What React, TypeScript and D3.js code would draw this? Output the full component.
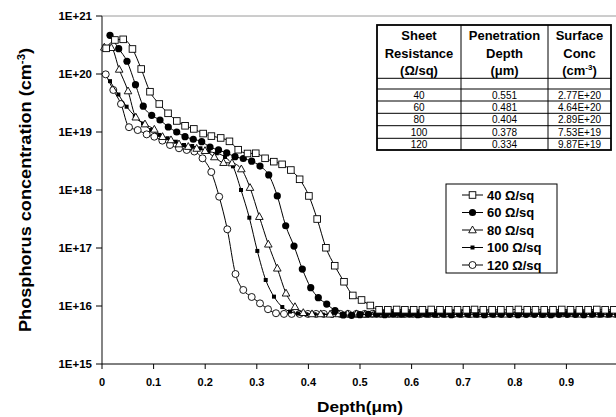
import React from "react";
import * as d3 from "d3";

// ---------- data ----------
const seriesNames = ["40 Ω/sq", "60 Ω/sq", "80 Ω/sq", "100 Ω/sq", "120 Ω/sq"];

const depth40 = [0.008, 0.025, 0.041, 0.059, 0.076, 0.093, 0.111, 0.128, 0.145, 0.161, 0.178, 0.196, 0.212, 0.230, 0.247, 0.264, 0.282, 0.298, 0.316, 0.333, 0.349, 0.366, 0.383, 0.401, 0.417, 0.434, 0.451, 0.469, 0.486, 0.503, 0.520,
  0.537, 0.554, 0.571, 0.587, 0.604, 0.621, 0.638, 0.655, 0.672, 0.689, 0.706, 0.722, 0.739, 0.756, 0.773, 0.790, 0.807, 0.824, 0.840, 0.857, 0.874, 0.891, 0.908, 0.925, 0.942, 0.959, 0.975, 0.992];
const conc40 = [2.77e20, 3.86e20, 3.96e20, 2.70e20, 1.22e20, 4.95e19, 3.04e19, 2.10e19, 1.55e19, 1.28e19, 1.13e19, 9.4e18, 8.5e18, 7.9e18, 6.9e18, 4.95e18, 4.26e18, 4.3e18, 3.52e18, 3.08e18, 2.77e18, 2.21e18, 1.53e18, 7.9e17, 3.16e17, 1.01e17, 4.95e16, 2.62e16, 1.52e16, 1.27e16, 1.02e16,
  8.6e15, 8.6e15, 8.7e15, 8.6e15, 8.6e15, 8.6e15, 8.7e15, 8.6e15, 8.6e15, 8.6e15, 8.6e15, 8.7e15, 8.6e15, 8.6e15, 8.6e15, 8.6e15, 8.7e15, 8.6e15, 8.6e15, 8.6e15, 8.6e15, 8.7e15, 8.6e15, 8.6e15, 8.6e15, 8.7e15, 8.6e15, 8.6e15];

const depth60 = [0.0155, 0.0324, 0.0484, 0.0649, 0.0800, 0.0963, 0.1124, 0.1285, 0.1448, 0.1609, 0.1769, 0.1932, 0.2093, 0.2258, 0.2417, 0.2578, 0.2738, 0.2901, 0.3062, 0.3231, 0.3397, 0.3560, 0.3721, 0.3882, 0.4045, 0.4192, 0.4355, 0.4516, 0.4676,
  0.4837, 0.4998, 0.516, 0.532, 0.548, 0.564, 0.580, 0.596, 0.612, 0.629, 0.645, 0.661, 0.677, 0.693, 0.709, 0.725, 0.741, 0.757, 0.773, 0.790, 0.806, 0.822, 0.838, 0.854, 0.870, 0.886, 0.902, 0.918, 0.934, 0.951, 0.967, 0.983, 0.999];
const conc60 = [4.64e20, 2.73e20, 1.66e20, 6.55e19, 2.79e19, 1.94e19, 1.61e19, 1.22e19, 1.0e19, 8.3e18, 7.5e18, 6.8e18, 5.5e18, 4.9e18, 4.35e18, 3.75e18, 3.49e18, 3.14e18, 2.59e18, 1.82e18, 7.9e17, 2.42e17, 1.08e17, 4.34e16, 2.07e16, 1.39e16, 1.08e16, 8.3e15, 7.0e15,
  6.9e15, 7.1e15, 7.2e15, 7.2e15, 7.1e15, 7.2e15, 7.2e15, 7.2e15, 7.1e15, 7.2e15, 7.2e15, 7.2e15, 7.1e15, 7.2e15, 7.2e15, 7.2e15, 7.1e15, 7.2e15, 7.2e15, 7.2e15, 7.1e15, 7.2e15, 7.2e15, 7.2e15, 7.1e15, 7.2e15, 7.2e15, 7.2e15, 7.1e15, 7.2e15, 7.2e15, 7.2e15, 7.2e15];

const depth80 = [0.0045, 0.0180, 0.0333, 0.0504, 0.0655, 0.0833, 0.1014, 0.1173, 0.1337, 0.1492, 0.1672, 0.1835, 0.1996, 0.2177, 0.2355, 0.2519, 0.2700, 0.2868, 0.3049, 0.3223, 0.3397, 0.3566, 0.3740, 0.3901,
  0.407, 0.424, 0.442, 0.459, 0.476, 0.493, 0.510, 0.527, 0.545, 0.562, 0.579, 0.596, 0.613, 0.630, 0.648, 0.665, 0.682, 0.699, 0.716, 0.733, 0.751, 0.768, 0.785, 0.802, 0.819, 0.836, 0.854, 0.871, 0.888, 0.905, 0.922, 0.939, 0.957, 0.974, 0.991];
const conc80 = [2.89e20, 2.84e20, 1.20e20, 5.09e19, 1.80e19, 1.37e19, 1.11e19, 8.3e18, 7.3e18, 6.2e18, 5.6e18, 5.2e18, 4.76e18, 3.71e18, 2.96e18, 2.92e18, 2.30e18, 1.10e18, 3.47e17, 1.16e17, 4.47e16, 1.66e16, 9.7e15, 7.66e15,
  7.3e15, 7.3e15, 7.2e15, 7.3e15, 7.3e15, 7.3e15, 7.2e15, 7.3e15, 7.3e15, 7.3e15, 7.2e15, 7.3e15, 7.3e15, 7.3e15, 7.2e15, 7.3e15, 7.3e15, 7.3e15, 7.2e15, 7.3e15, 7.3e15, 7.3e15, 7.2e15, 7.3e15, 7.3e15, 7.3e15, 7.2e15, 7.3e15, 7.3e15, 7.3e15, 7.2e15, 7.3e15, 7.3e15, 7.3e15, 7.3e15];

const depth100 = [0.0155, 0.0318, 0.0477, 0.0636, 0.0795, 0.0953, 0.1112, 0.1271, 0.1430, 0.1589, 0.1748, 0.1907, 0.2066, 0.2225, 0.2384, 0.2539, 0.2694, 0.2855, 0.3010, 0.3173, 0.3333, 0.3494, 0.3643, 0.3798,
  0.396, 0.412, 0.428, 0.444, 0.459, 0.475, 0.491, 0.507, 0.523, 0.539, 0.555, 0.571, 0.587, 0.602, 0.618, 0.634, 0.650, 0.666, 0.682, 0.698, 0.714, 0.730, 0.745, 0.761, 0.777, 0.793, 0.809, 0.825, 0.841, 0.857, 0.873, 0.888, 0.904, 0.920, 0.936, 0.952, 0.968, 0.984, 1.0];
const conc100 = [7.53e19, 4.43e19, 2.73e19, 1.89e19, 1.40e19, 1.08e19, 8.9e18, 7.8e18, 6.8e18, 5.97e18, 5.74e18, 5.24e18, 4.61e18, 4.30e18, 3.71e18, 2.56e18, 1.0e18, 3.33e17, 8.9e16, 2.81e16, 1.45e16, 9.6e15, 8.0e15, 7.4e15,
  7.2e15, 7.2e15, 7.1e15, 7.2e15, 7.2e15, 7.2e15, 7.1e15, 7.2e15, 7.2e15, 7.2e15, 7.1e15, 7.2e15, 7.2e15, 7.2e15, 7.1e15, 7.2e15, 7.2e15, 7.2e15, 7.1e15, 7.2e15, 7.2e15, 7.2e15, 7.1e15, 7.2e15, 7.2e15, 7.2e15, 7.1e15, 7.2e15, 7.2e15, 7.2e15, 7.1e15, 7.2e15, 7.2e15, 7.2e15, 7.1e15, 7.2e15, 7.2e15, 7.2e15, 7.2e15];

const depth120 = [0.0072, 0.0219, 0.0368, 0.0523, 0.0692, 0.0866, 0.1014, 0.1169, 0.1318, 0.1492, 0.1641, 0.1789, 0.1948, 0.2118, 0.2271, 0.2428, 0.2587, 0.2738, 0.2901, 0.3062, 0.3217, 0.3372, 0.3527, 0.3676,
  0.383, 0.399, 0.415, 0.430, 0.446, 0.462, 0.477, 0.493, 0.509, 0.524, 0.540, 0.556, 0.571, 0.587, 0.603, 0.618, 0.634, 0.650, 0.665, 0.681, 0.697, 0.713, 0.728, 0.744, 0.760, 0.775, 0.791, 0.807, 0.822, 0.838, 0.854, 0.869, 0.885, 0.901, 0.916, 0.932, 0.948, 0.963, 0.979, 0.995];
const conc120 = [9.87e19, 5.3e19, 3.04e19, 1.21e19, 1.08e19, 9.1e18, 8.3e18, 7.1e18, 5.97e18, 5.24e18, 4.9e18, 4.61e18, 3.52e18, 2.04e18, 7.66e17, 2.10e17, 3.56e16, 1.89e16, 1.43e16, 1.11e16, 8.8e15, 7.5e15, 7.3e15, 7.3e15,
  7.3e15, 7.3e15, 7.3e15, 7.3e15, 7.3e15, 7.3e15, 7.3e15, 7.3e15, 7.3e15, 7.3e15, 7.3e15, 7.3e15, 7.3e15, 7.3e15, 7.3e15, 7.3e15, 7.3e15, 7.3e15, 7.3e15, 7.3e15, 7.3e15, 7.3e15, 7.3e15, 7.3e15, 7.3e15, 7.3e15, 7.3e15, 7.3e15, 7.3e15, 7.3e15, 7.3e15, 7.3e15, 7.3e15, 7.3e15, 7.3e15, 7.3e15, 7.3e15, 7.3e15, 7.3e15, 7.3e15];

const xTicks = [0, 0.1, 0.2, 0.3, 0.4, 0.5, 0.6, 0.7, 0.8, 0.9];
const xTickLabels = ["0", "0.1", "0.2", "0.3", "0.4", "0.5", "0.6", "0.7", "0.8", "0.9"];
const yTicks = [1e15, 1e16, 1e17, 1e18, 1e19, 1e20, 1e21];
const yTickLabels = ["1E+15", "1E+16", "1E+17", "1E+18", "1E+19", "1E+20", "1E+21"];

const tableResistance = ["40", "60", "80", "100", "120"];
const tablePenetration = ["0.551", "0.481", "0.404", "0.378", "0.334"];
const tableSurface = ["2.77E+20", "4.64E+20", "2.89E+20", "7.53E+19", "9.87E+19"];

// ---------- layout ----------
const W = 616, H = 417;
const FONT = "'Liberation Sans', Arial, Helvetica, sans-serif";
const x = d3.scaleLinear().domain([0, 1]).range([102, 618]);
const y = d3.scaleLog().domain([1e15, 1e21]).range([364, 16]);

type MarkerKind = "sqOpen" | "circFill" | "triOpen" | "sqSmall" | "circOpen";
const markerKinds: MarkerKind[] = ["sqOpen", "circFill", "triOpen", "sqSmall", "circOpen"];
const depths = [depth40, depth60, depth80, depth100, depth120];
const concs = [conc40, conc60, conc80, conc100, conc120];

function Marker({ kind, cx, cy }: { kind: MarkerKind; cx: number; cy: number }) {
  switch (kind) {
    case "sqOpen":
      return <rect x={cx - 3.3} y={cy - 3.3} width={6.6} height={6.6} fill="#fff" stroke="#000" strokeWidth={0.9} />;
    case "circFill":
      return <circle cx={cx} cy={cy} r={3.6} fill="#000" />;
    case "triOpen":
      return <path d={`M${cx},${cy - 4} L${cx + 3.8},${cy + 2.8} L${cx - 3.8},${cy + 2.8} Z`} fill="#fff" stroke="#000" strokeWidth={0.9} />;
    case "sqSmall":
      return <rect x={cx - 2} y={cy - 2} width={4} height={4} fill="#000" />;
    case "circOpen":
      return <circle cx={cx} cy={cy} r={3.5} fill="#fff" stroke="#000" strokeWidth={0.9} />;
  }
}

export default function App() {
  const line = d3
    .line<[number, number]>()
    .x((d) => x(d[0]))
    .y((d) => y(d[1]))
    .curve(d3.curveMonotoneX);

  const legendY = [195, 212.5, 230, 247.5, 265];
  const tableCols = [377, 461, 548, 611];
  const tableRows = [78.3, 89, 101, 113.3, 125.7, 138.3];
  const colCenters = [419, 504.5, 579.5];
  const headerBase = [40, 57.5, 75];
  const drawOrder = [4, 3, 2, 1, 0];

  return (
    <svg width={W} height={H} style={{ position: "absolute", left: 0, top: 0, background: "#fff" }} fontFamily={FONT}>
      <rect x={0} y={0} width={W} height={H} fill="#fff" />
      {/* plot frame */}
      <line x1={102} y1={16} x2={W} y2={16} stroke="#9a9a9a" strokeWidth={1} />
      <line x1={102} y1={16} x2={102} y2={364} stroke="#666" strokeWidth={1.6} />
      <line x1={102} y1={364} x2={W} y2={364} stroke="#000" strokeWidth={1} />

      {/* y ticks */}
      {yTicks.map((t, i) => (
        <g key={"yt" + i}>
          <line x1={96} x2={102} y1={y(t)} y2={y(t)} stroke="#000" />
          <text x={92} y={y(t) + 4} textAnchor="end" fontSize={11.5} fontWeight="bold">
            {yTickLabels[i]}
          </text>
        </g>
      ))}
      {/* x ticks */}
      {xTicks.map((t, i) => (
        <g key={"xt" + i}>
          <line x1={x(t)} x2={x(t)} y1={364} y2={369} stroke="#000" />
          <text x={x(t)} y={385.5} textAnchor="middle" fontSize={11} fontWeight="bold">
            {xTickLabels[i]}
          </text>
        </g>
      ))}

      {/* axis titles */}
      <text
        transform="translate(31,190) rotate(-90)"
        textAnchor="middle"
        fontSize={16}
        fontWeight="bold"
        textLength={284}
        lengthAdjust="spacingAndGlyphs"
      >
        Phosphorus concentration (cm<tspan dy={-6} fontSize={10}>-3</tspan><tspan dy={6}>)</tspan>
      </text>
      <text x={360} y={412} textAnchor="middle" fontSize={15.5} fontWeight="bold" textLength={86} lengthAdjust="spacingAndGlyphs">
        Depth(μm)
      </text>

      {/* series */}
      {drawOrder.map((si) => {
        const pts: [number, number][] = depths[si].map((d, i) => [d, concs[si][i]]);
        return (
          <g key={"s" + si}>
            <path d={line(pts) || ""} fill="none" stroke="#000" strokeWidth={1} />
            {pts.map((p, i) => (
              <Marker key={i} kind={markerKinds[si]} cx={x(p[0])} cy={y(p[1])} />
            ))}
          </g>
        );
      })}

      {/* table */}
      <rect x={tableCols[0]} y={25} width={tableCols[3] - tableCols[0]} height={125} fill="#fff" stroke="#000" strokeWidth={1.8} />
      {tableCols.slice(1, 3).map((c, i) => (
        <line key={"tc" + i} x1={c} x2={c} y1={25} y2={150} stroke="#000" strokeWidth={1} />
      ))}
      {tableRows.map((r, i) => (
        <line key={"tr" + i} x1={tableCols[0]} x2={tableCols[3]} y1={r} y2={r} stroke="#000" strokeWidth={1} />
      ))}
      <g fontSize={13} fontWeight="bold" textAnchor="middle">
        <text x={colCenters[0]} y={headerBase[0]}>Sheet</text>
        <text x={colCenters[0]} y={headerBase[1]}>Resistance</text>
        <text x={colCenters[0]} y={headerBase[2]}>(Ω/sq)</text>
        <text x={colCenters[1]} y={headerBase[0]}>Penetration</text>
        <text x={colCenters[1]} y={headerBase[1]}>Depth</text>
        <text x={colCenters[1]} y={headerBase[2]}>(μm)</text>
        <text x={colCenters[2]} y={headerBase[0]}>Surface</text>
        <text x={colCenters[2]} y={headerBase[1]}>Conc</text>
        <text x={colCenters[2]} y={headerBase[2]}>
          (cm<tspan dy={-5} fontSize={8}>-3</tspan><tspan dy={5}>)</tspan>
        </text>
      </g>
      <g fontSize={10} textAnchor="middle">
        {tableResistance.map((r, i) => {
          const yb = (tableRows[i + 1] + (tableRows[i + 2] ?? 150)) / 2 + 3.6;
          return (
            <g key={"row" + i}>
              <text x={colCenters[0]} y={yb}>{r}</text>
              <text x={colCenters[1]} y={yb}>{tablePenetration[i]}</text>
              <text x={colCenters[2]} y={yb}>{tableSurface[i]}</text>
            </g>
          );
        })}
      </g>

      {/* legend */}
      <rect x={446} y={184} width={111} height={89} fill="#fff" stroke="#000" strokeWidth={1} />
      {seriesNames.map((n, i) => (
        <g key={"lg" + i}>
          <line x1={462} x2={483} y1={legendY[i]} y2={legendY[i]} stroke="#000" />
          <Marker kind={markerKinds[i]} cx={472.5} cy={legendY[i]} />
          <text x={487} y={legendY[i] + 4.6} fontSize={13} fontWeight="bold">
            {n}
          </text>
        </g>
      ))}
    </svg>
  );
}
